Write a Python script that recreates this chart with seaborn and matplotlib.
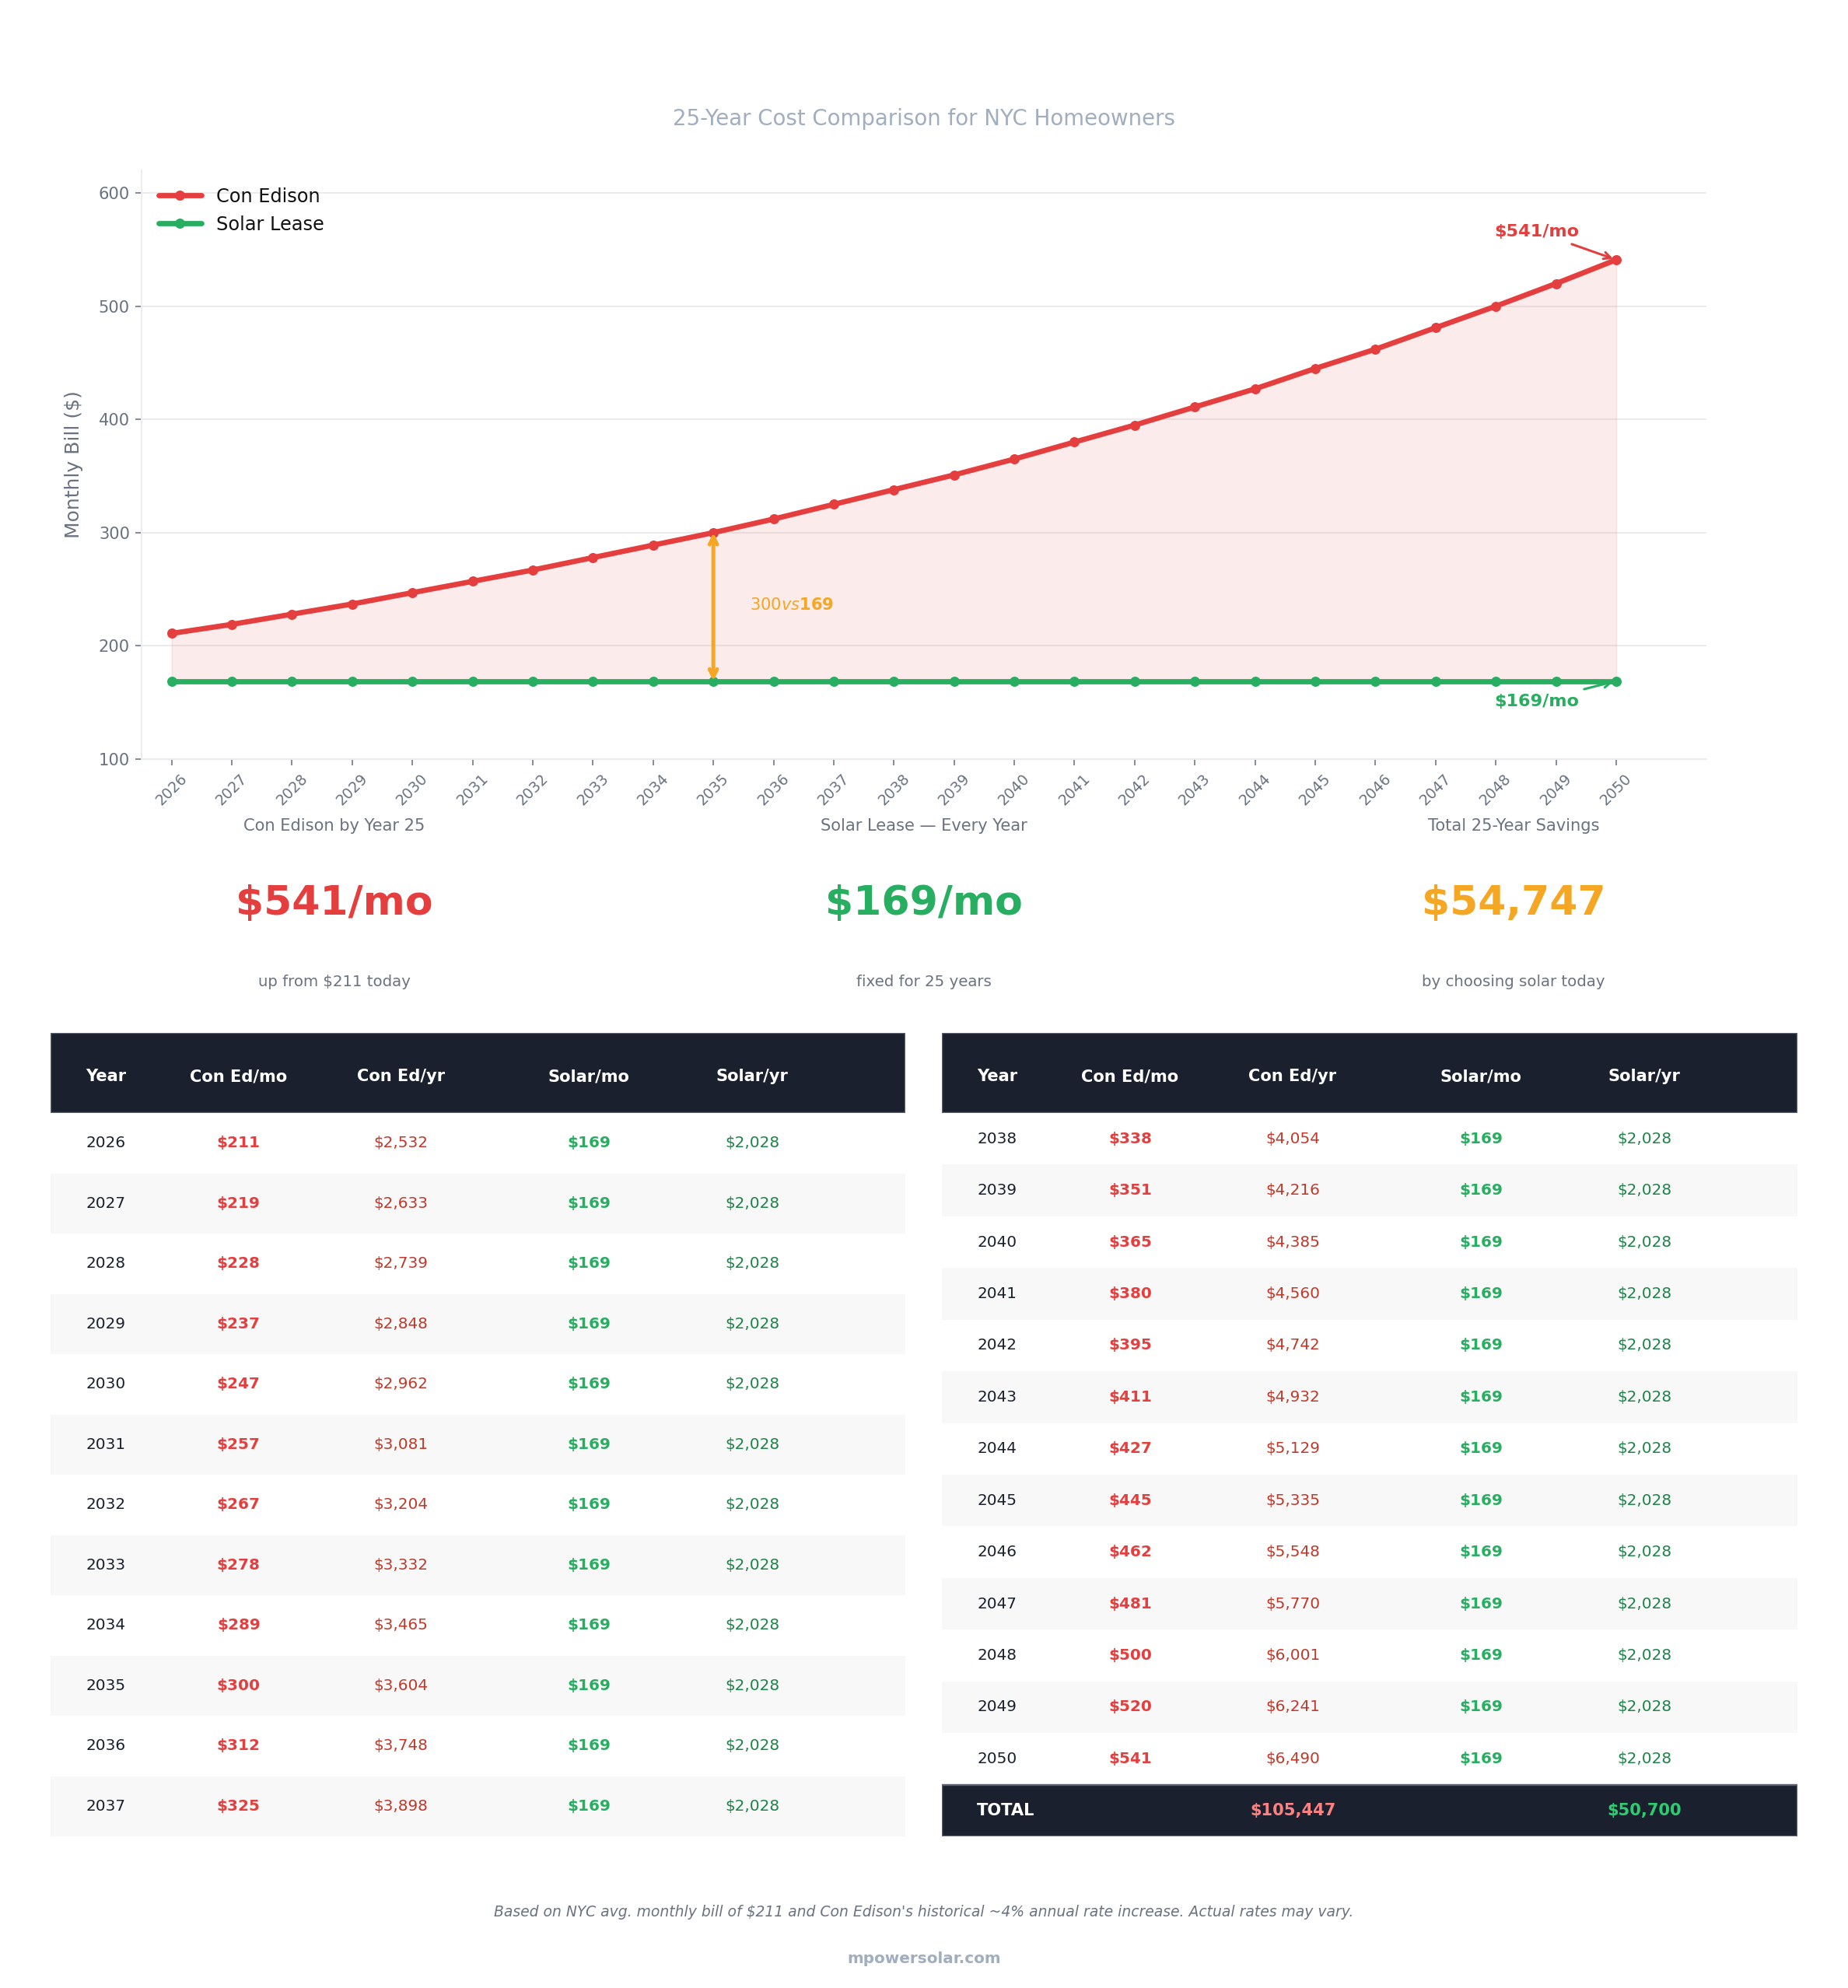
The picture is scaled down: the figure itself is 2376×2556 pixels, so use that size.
import matplotlib
matplotlib.use("Agg")
import matplotlib.pyplot as plt
import seaborn as sns
import pandas as pd
from matplotlib.patches import Rectangle

# ---------------- data ----------------
years = [2026, 2027, 2028, 2029, 2030, 2031, 2032, 2033, 2034, 2035, 2036, 2037,
         2038, 2039, 2040, 2041, 2042, 2043, 2044, 2045, 2046, 2047, 2048, 2049, 2050]
coned_monthly = [211, 219, 228, 237, 247, 257, 267, 278, 289, 300, 312, 325,
                 338, 351, 365, 380, 395, 411, 427, 445, 462, 481, 500, 520, 541]
coned_annual = [2532, 2633, 2739, 2848, 2962, 3081, 3204, 3332, 3465, 3604, 3748, 3898,
                4054, 4216, 4385, 4560, 4742, 4932, 5129, 5335, 5548, 5770, 6001, 6241, 6490]
solar_monthly = [169, 169, 169, 169, 169, 169, 169, 169, 169, 169, 169, 169,
                 169, 169, 169, 169, 169, 169, 169, 169, 169, 169, 169, 169, 169]
solar_annual = [2028, 2028, 2028, 2028, 2028, 2028, 2028, 2028, 2028, 2028, 2028, 2028,
                2028, 2028, 2028, 2028, 2028, 2028, 2028, 2028, 2028, 2028, 2028, 2028, 2028]
series_names = ["Con Edison", "Solar Lease"]
table_headers = ["Year", "Con Ed/mo", "Con Ed/yr", "Solar/mo", "Solar/yr"]
total_coned = 105447
total_solar = 50700
total_savings = 54747
kpi_labels = ["Con Edison by Year 25", "Solar Lease \u2014 Every Year", "Total 25-Year Savings"]
kpi_values = ["$541/mo", "$169/mo", "$54,747"]
kpi_subs = ["up from $211 today", "fixed for 25 years", "by choosing solar today"]

# ---------------- style ----------------
RED = "#E53E3E"
GREEN = "#27AE60"
ORANGE = "#F5A623"
GRAY = "#6B7280"
LIGHT = "#A0AEC0"
NAVY = "#1B202E"
DARKRED = "#C0392B"
DARKGREEN = "#1E8449"

sns.set_theme(style="whitegrid")
plt.rcParams["font.family"] = ["DejaVu Sans"]

W, H = 2376, 2556
fig = plt.figure(figsize=(16.5, 17.75), dpi=144)
fig.patch.set_facecolor("white")

fig.text(0.5, 1 - 153 / H, "25-Year Cost Comparison for NYC Homeowners",
         ha="center", va="center", fontsize=13.8, color=LIGHT)

# ---------------- line chart ----------------
ax = fig.add_axes([182 / W, 1 - 976 / H, (2194 - 182) / W, (976 - 219) / H])
ax.set_facecolor("white")
df = pd.DataFrame({
    "Year": years + years,
    "Bill": coned_monthly + solar_monthly,
    "Series": [series_names[0]] * len(years) + [series_names[1]] * len(years),
})
ax.fill_between(years, solar_monthly, coned_monthly, color=RED, alpha=0.1, lw=0.8, zorder=1)
sns.lineplot(data=df, x="Year", y="Bill", hue="Series",
             palette={series_names[0]: RED, series_names[1]: GREEN},
             marker="o", markersize=6.5, markeredgewidth=0, linewidth=3.4,
             ax=ax, zorder=3)
ax.set_xlim(2025.5, 2051.5)
ax.set_ylim(100, 620)
ax.set_yticks([100, 200, 300, 400, 500, 600])
ax.set_xticks(years)
ax.set_xticklabels([str(y) for y in years], rotation=45, ha="center", fontsize=9.5, color=GRAY)
ax.tick_params(axis="y", labelsize=10.5, labelcolor=GRAY)
ax.tick_params(axis="both", length=4, width=0.8, color=GRAY, bottom=True, left=True)
ax.set_xlabel("")
ax.set_ylabel("Monthly Bill ($)", fontsize=12.5, color=GRAY, labelpad=10)
ax.xaxis.grid(False)
ax.yaxis.grid(True, color="#EBEBEB", lw=1)
for s in ["top", "right"]:
    ax.spines[s].set_visible(False)
for s in ["left", "bottom"]:
    ax.spines[s].set_color("#ECECEC")
    ax.spines[s].set_linewidth(1)
leg = ax.legend(loc="upper left", frameon=False, fontsize=12, handlelength=2.3)
for t in leg.get_texts():
    t.set_color("#111111")

# gap arrow in 2035
i35 = years.index(2035)
ax.annotate("", xy=(years[i35], solar_monthly[i35]), xytext=(years[i35], coned_monthly[i35]),
            arrowprops=dict(arrowstyle="<->", color=ORANGE, lw=2.5, shrinkA=0, shrinkB=0), zorder=4)
ax.text(years[i35] + 0.6, 236, "$300 vs $169", color=ORANGE, fontsize=10.5,
        fontweight="bold", ha="left", va="center")

ax.annotate(f"${coned_monthly[-1]}/mo", xy=(years[-1], coned_monthly[-1]),
            xytext=(-51, 18), textcoords="offset points", ha="center", va="center",
            fontsize=11.2, fontweight="bold", color=RED,
            arrowprops=dict(arrowstyle="->", color=RED, lw=1.5))
ax.annotate(f"${solar_monthly[-1]}/mo", xy=(years[-1], solar_monthly[-1]),
            xytext=(-51, -13), textcoords="offset points", ha="center", va="center",
            fontsize=11.2, fontweight="bold", color=GREEN,
            arrowprops=dict(arrowstyle="->", color=GREEN, lw=1.5))

# ---------------- KPI row ----------------
kpi_x = [0.181, 0.5, 0.819]
kpi_colors = [RED, GREEN, ORANGE]
for x, lab, val, sub, c in zip(kpi_x, kpi_labels, kpi_values, kpi_subs, kpi_colors):
    fig.text(x, 1 - 1062 / H, lab, ha="center", va="center", fontsize=10.5, color=GRAY)
    fig.text(x, 1 - 1162 / H, val, ha="center", va="center", fontsize=26,
             fontweight="bold", color=c)
    fig.text(x, 1 - 1262 / H, sub, ha="center", va="center", fontsize=9.9, color=GRAY)

# ---------------- tables ----------------
col_x = [0.041, 0.22, 0.41, 0.63, 0.821]
TOP, BOT = 1328, 2361
TH = BOT - TOP
HEADER_H = 103


def draw_table(left_px, width_px, rows, total=None):
    tax = fig.add_axes([left_px / W, 1 - BOT / H, width_px / W, TH / H])
    tax.set_xlim(0, 1)
    tax.set_ylim(TH, 0)
    tax.axis("off")
    nrows = len(rows) + (1 if total else 0)
    rh = (TH - HEADER_H) / nrows
    tax.add_patch(Rectangle((0, 0), 1, HEADER_H, facecolor=NAVY, edgecolor="#5A6070", lw=1.2))
    for j, h in enumerate(table_headers):
        tax.text(col_x[j], HEADER_H / 2 + 5, h, ha="left" if j == 0 else "center",
                 va="center", fontsize=10.5, fontweight="bold", color="white")
    for i, (yr, cm, ca, sm, sa) in enumerate(rows):
        y0 = HEADER_H + i * rh
        bg = "white" if i % 2 == 0 else "#F8F8F8"
        tax.add_patch(Rectangle((0, y0), 1, rh, facecolor=bg, edgecolor="none"))
        yc = y0 + rh / 2
        tax.text(col_x[0], yc, str(yr), ha="left", va="center", fontsize=10, color="#1A202C")
        tax.text(col_x[1], yc, f"${cm:,}", ha="center", va="center", fontsize=10,
                 fontweight="bold", color=RED)
        tax.text(col_x[2], yc, f"${ca:,}", ha="center", va="center", fontsize=10, color=DARKRED)
        tax.text(col_x[3], yc, f"${sm:,}", ha="center", va="center", fontsize=10,
                 fontweight="bold", color=GREEN)
        tax.text(col_x[4], yc, f"${sa:,}", ha="center", va="center", fontsize=10, color=DARKGREEN)
    if total:
        y0 = HEADER_H + len(rows) * rh
        tax.add_patch(Rectangle((0, y0), 1, rh, facecolor=NAVY, edgecolor="#5A6070", lw=1.2))
        yc = y0 + rh / 2
        tax.text(col_x[0], yc, "TOTAL", ha="left", va="center", fontsize=10.5,
                 fontweight="bold", color="white")
        tax.text(col_x[2], yc, f"${total[0]:,}", ha="center", va="center", fontsize=10.5,
                 fontweight="bold", color="#FC8181")
        tax.text(col_x[4], yc, f"${total[1]:,}", ha="center", va="center", fontsize=10.5,
                 fontweight="bold", color="#2ECC71")


all_rows = list(zip(years, coned_monthly, coned_annual, solar_monthly, solar_annual))
draw_table(65, 1099, all_rows[:12])
draw_table(1211, 1100, all_rows[12:], total=(total_coned, total_solar))

# ---------------- footer ----------------
fig.text(0.5, 1 - 2459 / H,
         "Based on NYC avg. monthly bill of $211 and Con Edison's historical ~4% annual rate increase. Actual rates may vary.",
         ha="center", va="center", fontsize=9.4, style="italic", color=GRAY)
fig.text(0.5, 1 - 2519 / H, "mpowersolar.com", ha="center", va="center",
         fontsize=10, fontweight="bold", color=LIGHT)

fig.savefig("out.png", dpi=144, facecolor="white")
